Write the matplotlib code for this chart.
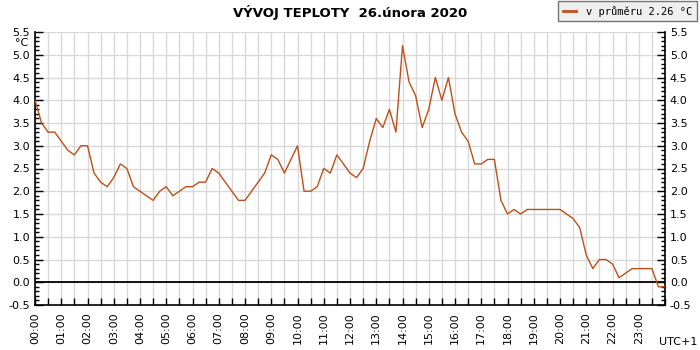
import numpy as np
import matplotlib
matplotlib.use("Agg")
import matplotlib.pyplot as plt
from matplotlib.ticker import MultipleLocator

# teplota po 15 minutach, 00:00 .. 24:00
teploty = [
    4.0, 3.5, 3.3, 3.3,
    3.1, 2.9, 2.8, 3.0,
    3.0, 2.4, 2.2, 2.1,
    2.3, 2.6, 2.5, 2.1,
    2.0, 1.9, 1.8, 2.0,
    2.1, 1.9, 2.0, 2.1,
    2.1, 2.2, 2.2, 2.5,
    2.4, 2.2, 2.0, 1.8,
    1.8, 2.0, 2.2, 2.4,
    2.8, 2.7, 2.4, 2.7,
    3.0, 2.0, 2.0, 2.1,
    2.5, 2.4, 2.8, 2.6,
    2.4, 2.3, 2.5, 3.1,
    3.6, 3.4, 3.8, 3.3,
    5.2, 4.4, 4.1, 3.4,
    3.8, 4.5, 4.0, 4.5,
    3.7, 3.3, 3.1, 2.6,
    2.6, 2.7, 2.7, 1.8,
    1.5, 1.6, 1.5, 1.6,
    1.6, 1.6, 1.6, 1.6,
    1.6, 1.5, 1.4, 1.2,
    0.6, 0.3, 0.5, 0.5,
    0.4, 0.1, 0.2, 0.3,
    0.3, 0.3, 0.3, -0.1,
    -0.1,
]
hodiny = np.arange(len(teploty)) * 0.25
popisky = ["%02d:00" % h for h in range(24)]
nadpis = "VÝVOJ TEPLOTY  26.února 2020"
legenda = "v průměru 2.26 °C"

barva = "#bf4f17"

fig = plt.figure(figsize=(7, 3.5), dpi=100)
ax = fig.add_axes([35/700, 1-305/350, 630/700, 273/350])

ax.plot(hodiny, teploty, color=barva, lw=1.0, label=legenda, zorder=3)
ax.axhline(0, color="black", lw=1.3, zorder=2)

ax.set_xlim(0, 24)
ax.set_ylim(-0.5, 5.5)

# osa x
ax.set_xticks(np.arange(0, 24, 1))
ax.set_xticklabels(popisky, rotation=90, fontsize=8)
ax.xaxis.set_minor_locator(MultipleLocator(0.5))
ax.tick_params(axis="x", which="both", direction="in", length=5, width=1, pad=5)

# osa y vlevo i vpravo
ax.yaxis.set_major_locator(MultipleLocator(0.5))
ax.yaxis.set_minor_locator(MultipleLocator(0.1))
ax.yaxis.set_major_formatter(plt.FormatStrFormatter("%.1f"))
ax.tick_params(axis="y", which="both", direction="in", left=True, right=True,
               labelleft=True, labelright=True, labelsize=8, width=1)
ax.tick_params(axis="y", which="major", length=6)
ax.tick_params(axis="y", which="minor", length=3)

ax.grid(which="minor", axis="x", color="#d9d9d9", lw=1)
ax.grid(which="major", axis="x", color="#d9d9d9", lw=1)
ax.grid(which="major", axis="y", color="#d9d9d9", lw=1)
ax.set_axisbelow(True)

ax.spines["top"].set_visible(False)
for s in ["left", "right", "bottom"]:
    ax.spines[s].set_linewidth(1.2)

fig.text(0.5, 1-13/350, nadpis, ha="center", va="center", fontsize=9.5,
         fontweight="bold")
fig.text(28/700, 1-43/350, "°C", ha="right", va="center", fontsize=8)
fig.text(697/700, 1-342/350, "UTC+1", ha="right", va="center", fontsize=8)

leg = fig.legend(loc="upper right", bbox_to_anchor=(697/700, 1-1/350),
                 prop={"family": "DejaVu Sans Mono", "size": 7.5},
                 frameon=True, fancybox=False, shadow=False,
                 handlelength=1.2, handletextpad=1.0, borderpad=0.45,
                 borderaxespad=0)
leg.get_frame().set_facecolor("#ececec")
leg.get_frame().set_edgecolor("#555555")
leg.get_frame().set_linewidth(1.0)
for l in leg.get_lines():
    l.set_linewidth(2)

fig.savefig("out.png", dpi=100)
